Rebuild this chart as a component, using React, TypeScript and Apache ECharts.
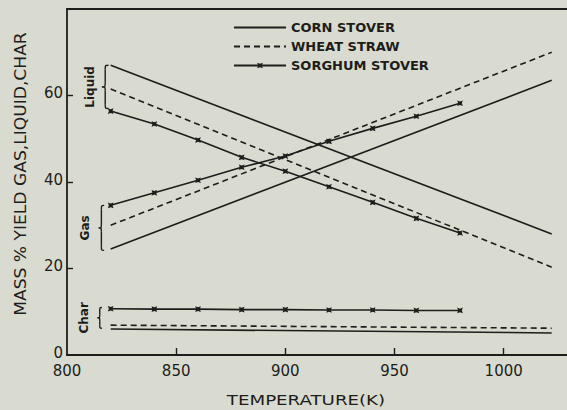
import React, { useEffect, useRef } from "react";
import * as echarts from "echarts";

// ---- data ----
const lineTemps = [820, 1022];
const cornLiquid = [67.0, 28.0];
const cornGas = [24.5, 63.5];
const cornChar = [6.0, 5.1];
const wheatLiquid = [61.5, 20.3];
const wheatGas = [30.0, 70.0];
const wheatChar = [6.9, 6.2];

const sorghumTemps = [820, 840, 860, 880, 900, 920, 940, 960, 980];
const sorghumLiquid = [56.4, 53.4, 49.7, 45.7, 42.5, 38.9, 35.3, 31.6, 28.2];
const sorghumGas = [34.6, 37.5, 40.4, 43.4, 46.0, 49.4, 52.4, 55.2, 58.2];
const sorghumChar = [10.7, 10.6, 10.6, 10.5, 10.5, 10.4, 10.4, 10.3, 10.3];

const xTickValues = [850, 900, 950, 1000];
const xLabelValues = [800, 850, 900, 950, 1000];
const yTickValues = [20, 40, 60];
const yLabelValues = [0, 20, 40, 60];

const seriesNames = ["CORN STOVER", "WHEAT STRAW", "SORGHUM STOVER"];

// brackets
const bracketLabels = ["Liquid", "Gas", "Char"];
const bracketTop = [67.0, 34.6, 11.0];
const bracketBottom = [57.0, 24.2, 6.2];

const INK = "#1d1d1b";
const BG = "#d9dbd0";
const FONT = "DejaVu Sans";

const zip = (xs: number[], ys: number[]) => xs.map((x, i) => [x, ys[i]]);

const starPath =
  "path://M5,0 L6.6,3.4 L10,5 L6.6,6.6 L5,10 L3.4,6.6 L0,5 L3.4,3.4 Z";

export default function App() {
  const ref = useRef<HTMLDivElement>(null);
  useEffect(() => {
    if (!ref.current) return;
    const chart = echarts.init(ref.current, null, { renderer: "svg" });
    const plain = (name: string, d: number[], dashed: boolean) => ({
      type: "line",
      name,
      data: zip(lineTemps, d),
      showSymbol: false,
      symbol: "none",
      lineStyle: { color: INK, width: 1.6, type: dashed ? [6, 4] : "solid" },
      itemStyle: { color: INK },
      silent: true,
    });
    const sorg = (d: number[]) => ({
      type: "line",
      name: seriesNames[2],
      data: zip(sorghumTemps, d),
      symbol: starPath,
      symbolSize: 8,
      symbolRotate: 45,
      lineStyle: { color: INK, width: 1.6 },
      itemStyle: { color: INK },
      silent: true,
    });
    const option: any = {
      animation: false,
      backgroundColor: BG,
      textStyle: { fontFamily: FONT },
      grid: { left: 67, right: 0, top: 9, bottom: 55 },
      legend: {
        orient: "vertical",
        left: 228,
        top: 16,
        itemWidth: 52,
        itemHeight: 10,
        itemGap: 6,
        data: [
          { name: seriesNames[0], itemStyle: { opacity: 0 } },
          { name: seriesNames[1], itemStyle: { opacity: 0 } },
          { name: seriesNames[2] },
        ],
        textStyle: { color: INK, fontSize: 13, fontWeight: "bold", fontFamily: FONT },
        selectedMode: false,
      },
      xAxis: [
        {
          type: "value",
          min: 800,
          max: 1029,
          interval: 50,
          splitLine: { show: false },
          axisLine: { show: true, lineStyle: { color: INK, width: 1.8 } },
          axisTick: {
            show: true,
            inside: true,
            length: 7,
            customValues: xTickValues,
            lineStyle: { color: INK, width: 1.4 },
          },
          axisLabel: {
            customValues: xLabelValues,
            formatter: (v: number) => String(v),
            color: INK,
            fontSize: 15,
            margin: 8,
            fontFamily: FONT,
          },
        },
        {
          type: "value",
          position: "top",
          min: 800,
          max: 1029,
          splitLine: { show: false },
          axisLine: { show: true, lineStyle: { color: INK, width: 1.8 } },
          axisTick: { show: false },
          axisLabel: { show: false },
        },
      ],
      yAxis: {
        type: "value",
        min: 0,
        max: 80,
        interval: 20,
        splitLine: { show: false },
        axisLine: { show: true, lineStyle: { color: INK, width: 1.8 } },
        axisTick: {
          show: true,
          inside: true,
          length: 6,
          customValues: yTickValues,
          lineStyle: { color: INK, width: 1.4 },
        },
        axisLabel: {
          customValues: yLabelValues,
          formatter: (v: number) => String(v),
          color: INK,
          fontSize: 15,
          margin: 4,
          verticalAlign: "bottom",
          lineHeight: 15,
          padding: [0, 0, -5, 0],
          fontFamily: FONT,
        },
      },
      series: [
        plain(seriesNames[0], cornLiquid, false),
        plain(seriesNames[0], cornGas, false),
        plain(seriesNames[0], cornChar, false),
        plain(seriesNames[1], wheatLiquid, true),
        plain(seriesNames[1], wheatGas, true),
        plain(seriesNames[1], wheatChar, true),
        sorg(sorghumLiquid),
        sorg(sorghumGas),
        sorg(sorghumChar),
      ],
    };
    chart.setOption(option);

    const toPx = (x: number, y: number) =>
      chart.convertToPixel({ xAxisIndex: 0, yAxisIndex: 0 }, [x, y]) as number[];

    const graphics: any[] = [];
    const braceX = [[816, 819], [814.5, 817], [814, 816]];
    const labelX = [90, 85, 84];
    bracketLabels.forEach((lab, i) => {
      const [xl, yTop] = toPx(braceX[i][0], bracketTop[i]);
      const [xr, yBot] = toPx(braceX[i][1], bracketBottom[i]);
      const xm = (xl + xr) / 2;
      const ym = (yTop + yBot) / 2;
      const r = Math.min(4, (yBot - yTop) / 6);
      const st = { stroke: INK, lineWidth: 1.4, fill: "none" };
      graphics.push(
        { type: "bezierCurve", shape: { x1: xr, y1: yTop, cpx1: xm, cpy1: yTop, x2: xm, y2: yTop + r, cpx2: xm, cpy2: yTop }, style: st, silent: true },
        { type: "line", shape: { x1: xm, y1: yTop + r, x2: xm, y2: ym - r }, style: st, silent: true },
        { type: "bezierCurve", shape: { x1: xm, y1: ym - r, cpx1: xm, cpy1: ym, x2: xl, y2: ym, cpx2: xm, cpy2: ym }, style: st, silent: true },
        { type: "bezierCurve", shape: { x1: xl, y1: ym, cpx1: xm, cpy1: ym, x2: xm, y2: ym + r, cpx2: xm, cpy2: ym }, style: st, silent: true },
        { type: "line", shape: { x1: xm, y1: ym + r, x2: xm, y2: yBot - r }, style: st, silent: true },
        { type: "bezierCurve", shape: { x1: xm, y1: yBot - r, cpx1: xm, cpy1: yBot, x2: xr, y2: yBot, cpx2: xm, cpy2: yBot }, style: st, silent: true },
        {
          type: "text",
          x: labelX[i],
          y: ym,
          rotation: Math.PI / 2,
          style: {
            text: lab,
            fill: INK,
            font: `bold 12px '${FONT}'`,
            align: "center",
            verticalAlign: "middle",
          },
          silent: true,
        }
      );
    });
    graphics.push(
      {
        type: "text",
        x: 306,
        y: 400,
        scaleX: 1.3,
        style: {
          text: "TEMPERATURE(K)",
          fill: INK,
          font: `14px '${FONT}'`,
          align: "center",
          verticalAlign: "middle",
        },
        silent: true,
      },
      {
        type: "text",
        x: 21,
        y: 174,
        rotation: Math.PI / 2,
        scaleX: 1.07,
        style: {
          text: "MASS % YIELD GAS,LIQUID,CHAR",
          fill: INK,
          font: `16px '${FONT}'`,
          align: "center",
          verticalAlign: "middle",
        },
        silent: true,
      }
    );
    chart.setOption({ graphic: graphics });
    return () => chart.dispose();
  }, []);
  return (
    <div
      ref={ref}
      style={{ position: "fixed", left: 0, top: 0, width: 567, height: 410 }}
    />
  );
}
